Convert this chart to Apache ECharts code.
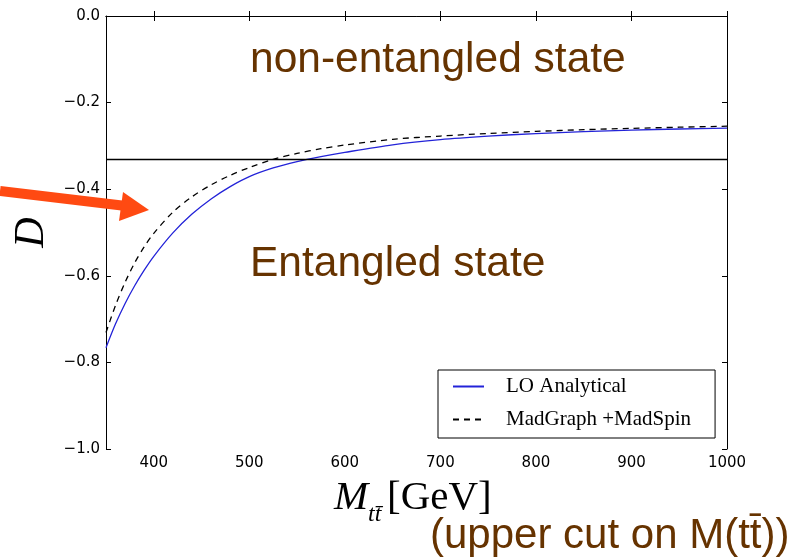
<!DOCTYPE html>
<html><head><meta charset="utf-8">
<script src="https://cdn.jsdelivr.net/npm/echarts@6/dist/echarts.min.js"></script>
<style>html,body{margin:0;padding:0;background:#fff}#c{width:808px;height:559px}</style>
</head><body><div id="c"></div><script>
// M_tt (GeV)
const mass = [350,360,370,380,390,400,420,440,460,480,500,525,550,575,600,650,700,750,800,850,900,950,1000];
const loAnalytical = [-0.766,-0.711,-0.664,-0.623,-0.587,-0.555,-0.501,-0.4575,-0.4225,-0.394,-0.371,-0.351,-0.3365,-0.325,-0.315,-0.2975,-0.2855,-0.2775,-0.2715,-0.267,-0.2635,-0.261,-0.259];
const madGraphMadSpin = [-0.731,-0.668,-0.615,-0.570,-0.533,-0.502,-0.453,-0.4175,-0.390,-0.368,-0.350,-0.331,-0.3175,-0.3065,-0.298,-0.2848,-0.2772,-0.2713,-0.2665,-0.2625,-0.2595,-0.2568,-0.2545];
const xTicks = [400,500,600,700,800,900,1000];
const yTicks = [-1.0,-0.8,-0.6,-0.4,-0.2,0.0];
const entanglementBound = -1/3;
const seriesNames = ['LO Analytical','MadGraph +MadSpin'];
const annotations = ['non-entangled state','Entangled state','(upper cut on M(tt\u0304))'];

const chart = echarts.init(document.getElementById('c'), null, {renderer:'canvas'});
const brown = '#663300';
const tickFont = {fontSize:15, color:'#000', fontFamily:'DejaVu Sans'};
function yFmt(v){ return Math.abs(v) < 1e-9 ? '0.0' : (v < 0 ? '\u2212' : '') + Math.abs(v).toFixed(1); }

const axisLine = {show:true, lineStyle:{color:'#000', width:1}};
chart.setOption({
  animation:false,
  backgroundColor:'#fff',
  grid:{left:106, right:81, top:16, bottom:110, containLabel:false},
  xAxis:[
    {type:'value', min:350, max:1000, position:'bottom',
     axisLine, splitLine:{show:false},
     axisTick:{show:true, inside:true, length:5, customValues:xTicks, lineStyle:{color:'#000'}},
     axisLabel:Object.assign({show:true, margin:7, customValues:xTicks, formatter:v=>String(v)}, tickFont)},
    {type:'value', min:350, max:1000, position:'top',
     axisLine, splitLine:{show:false},
     axisTick:{show:true, inside:true, length:5, customValues:xTicks, lineStyle:{color:'#000'}},
     axisLabel:{show:false}}
  ],
  yAxis:[
    {type:'value', min:yTicks[0], max:yTicks[yTicks.length-1], interval:0.2, position:'left',
     axisLine, splitLine:{show:false},
     axisTick:{show:true, inside:true, length:5, lineStyle:{color:'#000'}},
     axisLabel:Object.assign({show:true, margin:6, formatter:yFmt}, tickFont),
     name:'D', nameLocation:'middle', nameRotate:90, nameGap:50,
     nameTextStyle:{fontSize:42, fontStyle:'italic', fontFamily:'Liberation Serif', color:'#000'}},
    {type:'value', min:yTicks[0], max:yTicks[yTicks.length-1], interval:0.2, position:'right',
     axisLine, splitLine:{show:false},
     axisTick:{show:true, inside:true, length:5, lineStyle:{color:'#000'}},
     axisLabel:{show:false}}
  ],
  legend:{
    show:true, orient:'vertical', left:438, top:370,
    backgroundColor:'#fff', borderColor:'#000', borderWidth:1, borderRadius:0,
    padding:[6,24,8,14], itemGap:12, itemWidth:31, itemHeight:14,
    itemStyle:{color:'rgba(0,0,0,0)', borderWidth:0, opacity:0},
    textStyle:{fontSize:21, lineHeight:21, fontFamily:'Liberation Serif', color:'#000', padding:[0,0,0,17]},
    data:seriesNames
  },
  series:[
    {name:seriesNames[0], type:'line', data:mass.map((m,i)=>[m, loAnalytical[i]]),
     symbol:'none', showSymbol:false, smooth:0.3,
     lineStyle:{color:'#2323d8', width:1.3}, itemStyle:{color:'#2323d8'},
     markLine:{silent:true, symbol:['none','none'], label:{show:false},
       lineStyle:{color:'#000', width:1.3, type:'solid'},
       data:[{yAxis:entanglementBound}]}},
    {name:seriesNames[1], type:'line', data:mass.map((m,i)=>[m, madGraphMadSpin[i]]),
     symbol:'none', showSymbol:false, smooth:0.3,
     lineStyle:{color:'#000', width:1.3, type:[6,5]}, itemStyle:{color:'#000'}}
  ],
  graphic:[
    {type:'text', left:250, top:39, style:{text:annotations[0], fontSize:42.5, fontFamily:'Liberation Sans', fill:brown}},
    {type:'text', left:250, top:243, style:{text:annotations[1], fontSize:42.5, fontFamily:'Liberation Sans', fill:brown}},
    {type:'text', left:430, top:515, style:{text:annotations[2], fontSize:42, fontFamily:'Liberation Sans', fill:brown}},
    {type:'text', left:334, top:478, style:{text:'M', fontSize:41, fontStyle:'italic', fontFamily:'Liberation Serif', fill:'#000'}},
    {type:'text', left:368, top:503, style:{text:'tt\u0304', fontSize:24, fontStyle:'italic', fontFamily:'Liberation Serif', fill:'#000'}},
    {type:'text', left:387, top:478, style:{text:'[GeV]', fontSize:41, fontFamily:'Liberation Serif', fill:'#000'}},
    {type:'line', shape:{x1:0, y1:191, x2:126, y2:206}, style:{stroke:'#ff4a12', lineWidth:10}, z:100},
    {type:'polygon', shape:{points:[[123,192],[149,210],[119,221]]}, style:{fill:'#ff4a12'}, z:100}
  ]
});
</script></body></html>
